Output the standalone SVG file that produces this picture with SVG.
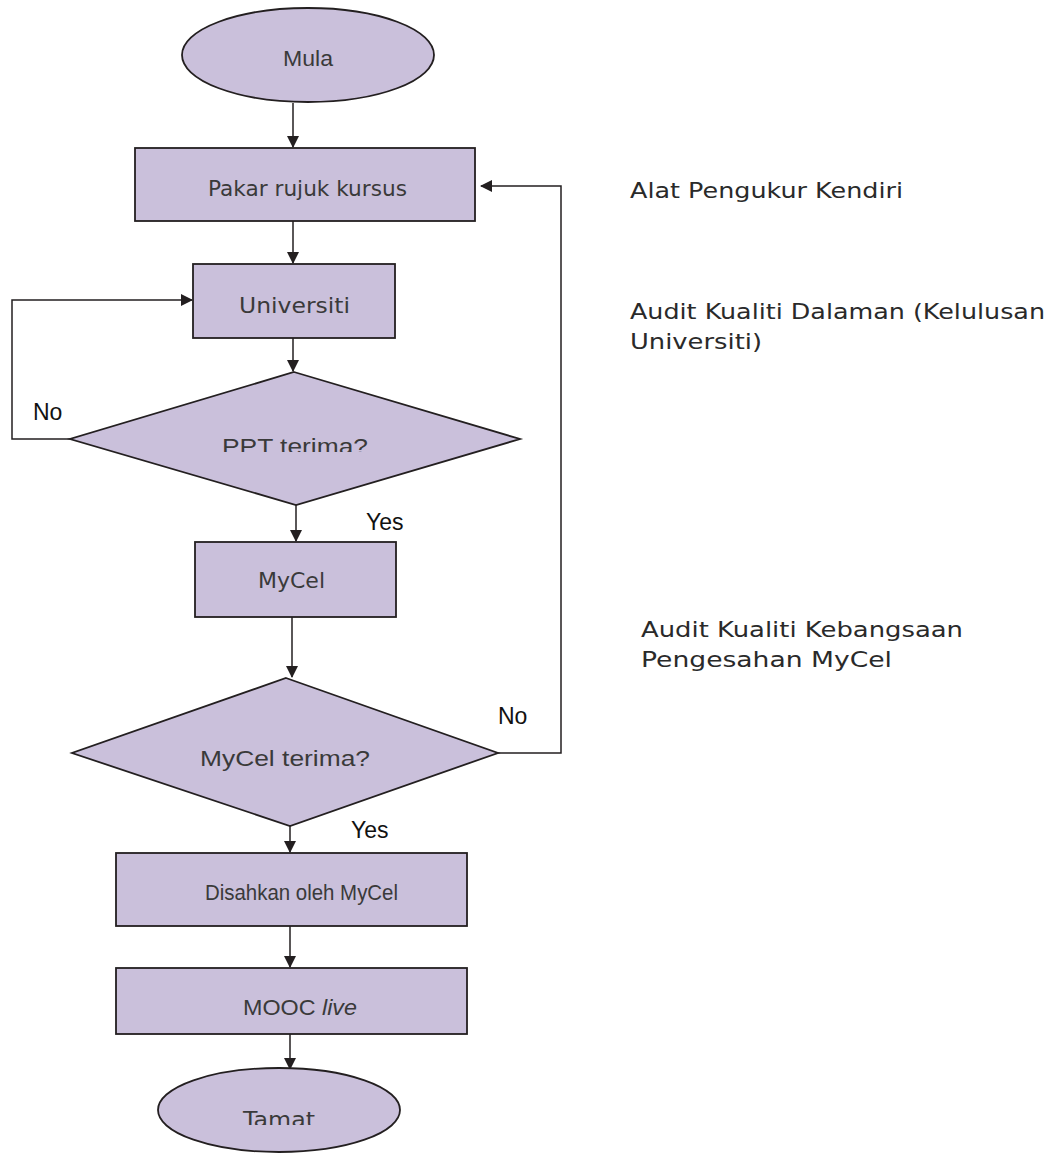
<svg xmlns="http://www.w3.org/2000/svg" width="1051" height="1153" viewBox="0 0 1051 1153">
<defs>
<style>
.shape{fill:#cac0db;stroke:#231f20;stroke-width:1.8}
.line{fill:none;stroke:#231f20;stroke-width:1.5}
.t{font-family:"DejaVu Sans","Liberation Sans",sans-serif;fill:#3a3a3a;font-size:22px}
.a{font-family:"Liberation Sans",Arial,sans-serif;fill:#3a3a3a;font-size:22px}
.lbl{font-family:"Liberation Sans",Arial,sans-serif;fill:#111;font-size:23px}
.side{font-family:"DejaVu Sans","Liberation Sans",sans-serif;fill:#2a2a2a;font-size:22px}
</style>
<marker id="arr" markerWidth="12" markerHeight="12" refX="11" refY="6" orient="auto" markerUnits="userSpaceOnUse">
<path d="M0,0 L12,6 L0,12 Z" fill="#231f20"/>
</marker>
<clipPath id="clipPPT"><rect x="0" y="0" width="1051" height="452"/></clipPath>
<clipPath id="clipTamat"><rect x="0" y="0" width="1051" height="1125"/></clipPath>
</defs>
<rect width="1051" height="1153" fill="#fff"/>

<g id="connectors">
<line class="line" x1="293" y1="103" x2="293" y2="147" marker-end="url(#arr)"/>
<line class="line" x1="293" y1="221" x2="293" y2="263" marker-end="url(#arr)"/>
<line class="line" x1="293" y1="338" x2="293" y2="371" marker-end="url(#arr)"/>
<polyline class="line" points="70,439 12,439 12,300 192,300" marker-end="url(#arr)"/>
<line class="line" x1="296" y1="505" x2="296" y2="541" marker-end="url(#arr)"/>
<line class="line" x1="292" y1="617" x2="292" y2="677" marker-end="url(#arr)"/>
<polyline class="line" points="498,753 561,753 561,186 481,186" marker-end="url(#arr)"/>
<line class="line" x1="290" y1="826" x2="290" y2="852" marker-end="url(#arr)"/>
<line class="line" x1="290" y1="926" x2="290" y2="967" marker-end="url(#arr)"/>
<line class="line" x1="290" y1="1034" x2="290" y2="1069" marker-end="url(#arr)"/>
<text class="lbl" x="33" y="420">No</text>
<text class="lbl" x="366" y="530">Yes</text>
<text class="lbl" x="498" y="724">No</text>
<text class="lbl" x="351" y="838">Yes</text>
</g>

<g id="mula">
<ellipse class="shape" cx="308" cy="55" rx="126" ry="47"/>
<text class="a" x="283" y="66" textLength="50" lengthAdjust="spacingAndGlyphs" font-size="21">Mula</text>
</g>
<g id="pakar">
<rect class="shape" x="135" y="148" width="340" height="73"/>
<text class="t" x="208" y="196" textLength="199" lengthAdjust="spacingAndGlyphs">Pakar rujuk kursus</text>
</g>
<g id="universiti">
<rect class="shape" x="193" y="264" width="202" height="74"/>
<text class="t" x="239" y="313" textLength="111" lengthAdjust="spacingAndGlyphs" font-size="23">Universiti</text>
</g>
<g id="ppt">
<polygon class="shape" points="294,372 520,439 296,505 70,439"/>
<text class="a" x="222" y="454" textLength="146" lengthAdjust="spacingAndGlyphs" font-size="25" clip-path="url(#clipPPT)">PPT terima?</text>
</g>
<g id="mycel">
<rect class="shape" x="195" y="542" width="201" height="75"/>
<text class="t" x="258" y="588" textLength="67" lengthAdjust="spacingAndGlyphs">MyCel</text>
</g>
<g id="mycel-terima">
<polygon class="shape" points="286,678 498,753 290,826 72,753"/>
<text class="a" x="200" y="766" textLength="170" lengthAdjust="spacingAndGlyphs" font-size="23">MyCel terima?</text>
</g>
<g id="disahkan">
<rect class="shape" x="116" y="853" width="351" height="73"/>
<text class="a" x="205" y="900" textLength="193" lengthAdjust="spacingAndGlyphs" font-size="21">Disahkan oleh MyCel</text>
</g>
<g id="mooc">
<rect class="shape" x="116" y="968" width="351" height="66"/>
<text class="a" x="243" y="1015" font-size="23" textLength="114" lengthAdjust="spacingAndGlyphs"><tspan>MOOC </tspan><tspan font-style="italic">live</tspan></text>
</g>
<g id="tamat">
<ellipse class="shape" cx="279" cy="1110" rx="121" ry="42"/>
<text class="t" x="243" y="1127" textLength="72" lengthAdjust="spacingAndGlyphs" font-size="21" clip-path="url(#clipTamat)">Tamat</text>
</g>

<g id="notes">
<text class="side" x="630" y="198" textLength="273" lengthAdjust="spacingAndGlyphs">Alat Pengukur Kendiri</text>
<text class="side" x="630" y="319" textLength="415" lengthAdjust="spacingAndGlyphs">Audit Kualiti Dalaman (Kelulusan</text>
<text class="side" x="630" y="349" textLength="132" lengthAdjust="spacingAndGlyphs">Universiti)</text>
<text class="side" x="641" y="637" textLength="322" lengthAdjust="spacingAndGlyphs">Audit Kualiti Kebangsaan</text>
<text class="side" x="641" y="667" textLength="251" lengthAdjust="spacingAndGlyphs">Pengesahan MyCel</text>
</g>
</svg>
